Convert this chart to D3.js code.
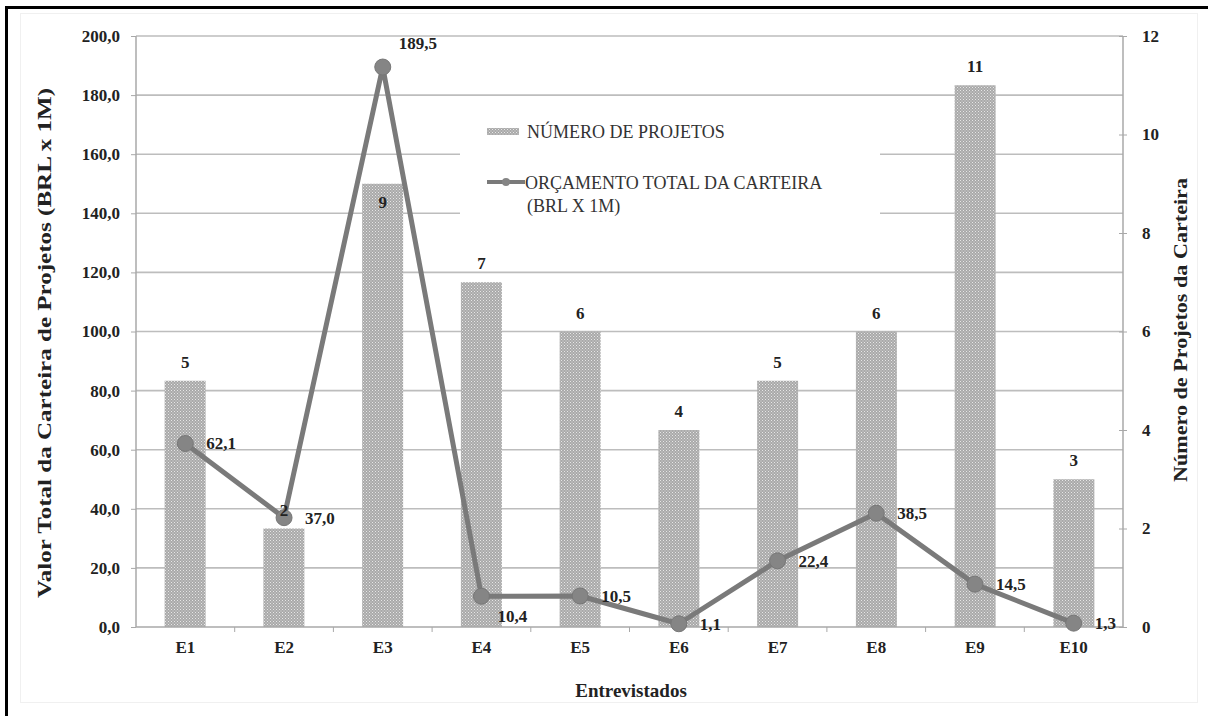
<!DOCTYPE html>
<html><head><meta charset="utf-8">
<script src="https://cdn.jsdelivr.net/npm/d3@7"></script>
<style>body{margin:0;background:#fff}svg{display:block}</style>
</head><body><svg id="c" width="1208" height="716" font-family="Liberation Serif, DejaVu Serif, serif"></svg>
<script>
const categories = ["E1","E2","E3","E4","E5","E6","E7","E8","E9","E10"];
const projectCounts = [5,2,9,7,6,4,5,6,11,3];
const budgets = [62.1,37.0,189.5,10.4,10.5,1.1,22.4,38.5,14.5,1.3];
const budgetLabelPlacement = ["right","right","above","below","right","right","right","right","right","right"];
const leftTicks = [0,20,40,60,80,100,120,140,160,180,200];
const rightTicks = [0,2,4,6,8,10,12];
const legendLabels = ["NÚMERO DE PROJETOS", ["ORÇAMENTO TOTAL DA CARTEIRA","(BRL X 1M)"]];

const FONT = "Liberation Serif, DejaVu Serif, serif";
const svg = d3.select("#c");
const L = 136, R = 1123, T = 36, B = 627;
const x = d3.scaleBand().domain(categories).range([L, R]).paddingInner(0.585).paddingOuter(0.29);
const xc = d3.scaleBand().domain(categories).range([L, R]);
const yL = d3.scaleLinear().domain([0,200]).range([B, T]);
const yR = d3.scaleLinear().domain([0,12]).range([B, T]);
const fmt = v => d3.format(".1f")(v).replace(".", ",");

// pattern
const defs = svg.append("defs");
const pat = defs.append("pattern").attr("id","dots").attr("patternUnits","userSpaceOnUse").attr("width",3).attr("height",3);
pat.append("rect").attr("width",3).attr("height",3).attr("fill","#a9a9a9");
pat.append("rect").attr("x",0).attr("y",0).attr("width",1).attr("height",1).attr("fill","#e6e6e6");
pat.append("rect").attr("x",1.5).attr("y",1.5).attr("width",1).attr("height",1).attr("fill","#dcdcdc");

// faint inner frame
svg.append("rect").attr("x",20.5).attr("y",13.5).attr("width",1177).attr("height",689).attr("fill","none").attr("stroke","#f0f0f0");

// gridlines
svg.append("g").selectAll("line").data(leftTicks.filter(d=>d>0)).join("line")
  .attr("x1",L).attr("x2",R).attr("y1",d=>yL(d)).attr("y2",d=>yL(d))
  .attr("stroke","#bdbdbd").attr("stroke-width",1.6);

// legend background (hides gridlines)
svg.append("rect").attr("x",460).attr("y",110).attr("width",420).attr("height",114).attr("fill","#fff");

// bars
svg.append("g").selectAll("rect").data(categories).join("rect")
  .attr("x",d=>x(d)).attr("width",x.bandwidth())
  .attr("y",(d,i)=>yR(projectCounts[i])).attr("height",(d,i)=>B-yR(projectCounts[i]))
  .attr("fill","url(#dots)");

// axes lines
const axisColor = "#a8a8a8";
svg.append("line").attr("x1",L).attr("x2",L).attr("y1",T).attr("y2",B).attr("stroke",axisColor).attr("stroke-width",1.5);
svg.append("line").attr("x1",R).attr("x2",R).attr("y1",T).attr("y2",B).attr("stroke",axisColor).attr("stroke-width",1.5);
svg.append("line").attr("x1",L).attr("x2",R).attr("y1",B).attr("y2",B).attr("stroke",axisColor).attr("stroke-width",1.5);

function styleTicks(g){
  g.attr("font-family",FONT);
  g.selectAll("text").attr("font-family",FONT).attr("font-size",17).attr("font-weight","bold").attr("fill","#222");
}

// left axis
const gl = svg.append("g").attr("transform",`translate(${L},0)`)
  .call(d3.axisLeft(yL).tickValues(leftTicks).tickFormat(fmt).tickSize(5).tickPadding(11));
gl.select(".domain").remove();
gl.selectAll(".tick line").attr("stroke",axisColor);
styleTicks(gl);

// right axis
const gr = svg.append("g").attr("transform",`translate(${R},0)`)
  .call(d3.axisRight(yR).tickValues(rightTicks).tickFormat(d3.format("d")).tickSize(4).tickPadding(15));
gr.select(".domain").remove();
gr.selectAll(".tick line").attr("stroke",axisColor).attr("x1",-4).attr("x2",4);
styleTicks(gr);

// bottom axis
const gb = svg.append("g").attr("transform",`translate(0,${B})`)
  .call(d3.axisBottom(xc).tickSize(0).tickPadding(14));
gb.select(".domain").remove();
styleTicks(gb);
svg.append("g").selectAll("line").data(categories.slice(1)).join("line")
  .attr("x1",d=>xc(d)).attr("x2",d=>xc(d)).attr("y1",B).attr("y2",B+5).attr("stroke",axisColor);

// line
const line = d3.line().x((d,i)=>xc(categories[i])+xc.bandwidth()/2).y(d=>yL(d));
svg.append("path").datum(budgets).attr("d",line).attr("fill","none").attr("stroke","#7a7a7a").attr("stroke-width",5).attr("stroke-linejoin","round");
svg.append("g").selectAll("circle").data(budgets).join("circle")
  .attr("cx",(d,i)=>xc(categories[i])+xc.bandwidth()/2).attr("cy",d=>yL(d)).attr("r",8)
  .attr("fill","#858585").attr("stroke","#777").attr("stroke-width",1);

// bar labels
svg.append("g").selectAll("text").data(projectCounts).join("text")
  .attr("x",(d,i)=>x(categories[i])+x.bandwidth()/2)
  .attr("y",(d,i)=> i===2 ? yR(d)+24 : yR(d)-13)
  .attr("text-anchor","middle").attr("font-family",FONT).attr("font-size",17).attr("font-weight","bold").attr("fill","#222")
  .text(d=>d);

// line labels
svg.append("g").selectAll("text").data(budgets).join("text")
  .attr("x",(d,i)=>{const cx=xc(categories[i])+xc.bandwidth()/2; return budgetLabelPlacement[i]==="right"?cx+21:cx+16;})
  .attr("y",(d,i)=>{const p=budgetLabelPlacement[i]; return p==="above"?yL(d)-18:p==="below"?yL(d)+26:yL(d)+6;})
  .attr("font-family",FONT).attr("font-size",17).attr("font-weight","bold").attr("fill","#222")
  .text(d=>fmt(d));

// legend
const lg = svg.append("g").attr("font-family",FONT);
lg.append("rect").attr("x",487).attr("y",128).attr("width",32).attr("height",7).attr("fill","url(#dots)");
lg.append("text").attr("x",527).attr("y",138).attr("font-size",18).attr("fill","#333").text(legendLabels[0]);
lg.append("line").attr("x1",487).attr("x2",525).attr("y1",182).attr("y2",182).attr("stroke","#7a7a7a").attr("stroke-width",4);
lg.append("circle").attr("cx",506).attr("cy",182).attr("r",4).attr("fill","#858585");
lg.append("text").attr("x",525).attr("y",189).attr("font-size",18).attr("fill","#333").text(legendLabels[1][0]);
lg.append("text").attr("x",527).attr("y",212).attr("font-size",18).attr("fill","#333").text(legendLabels[1][1]);

// axis titles
svg.append("text").attr("transform",`translate(51,343) rotate(-90)`).attr("text-anchor","middle")
  .attr("font-family",FONT).attr("font-size",19).attr("font-weight","bold").attr("fill","#222")
  .attr("textLength",510).attr("lengthAdjust","spacingAndGlyphs")
  .text("Valor Total da Carteira de Projetos (BRL x 1M)");
svg.append("text").attr("transform",`translate(1187,330) rotate(-90)`).attr("text-anchor","middle")
  .attr("font-family",FONT).attr("font-size",19).attr("font-weight","bold").attr("fill","#222")
  .attr("textLength",304).attr("lengthAdjust","spacingAndGlyphs")
  .text("Número de Projetos da Carteira");
svg.append("text").attr("x",631).attr("y",697).attr("text-anchor","middle")
  .attr("font-family",FONT).attr("font-size",19).attr("font-weight","bold").attr("fill","#222").text("Entrevistados");

// outer border
svg.append("rect").attr("x",6.5).attr("y",7.5).attr("width",1300).attr("height",800).attr("fill","none").attr("stroke","#000").attr("stroke-width",3);
</script></body></html>
